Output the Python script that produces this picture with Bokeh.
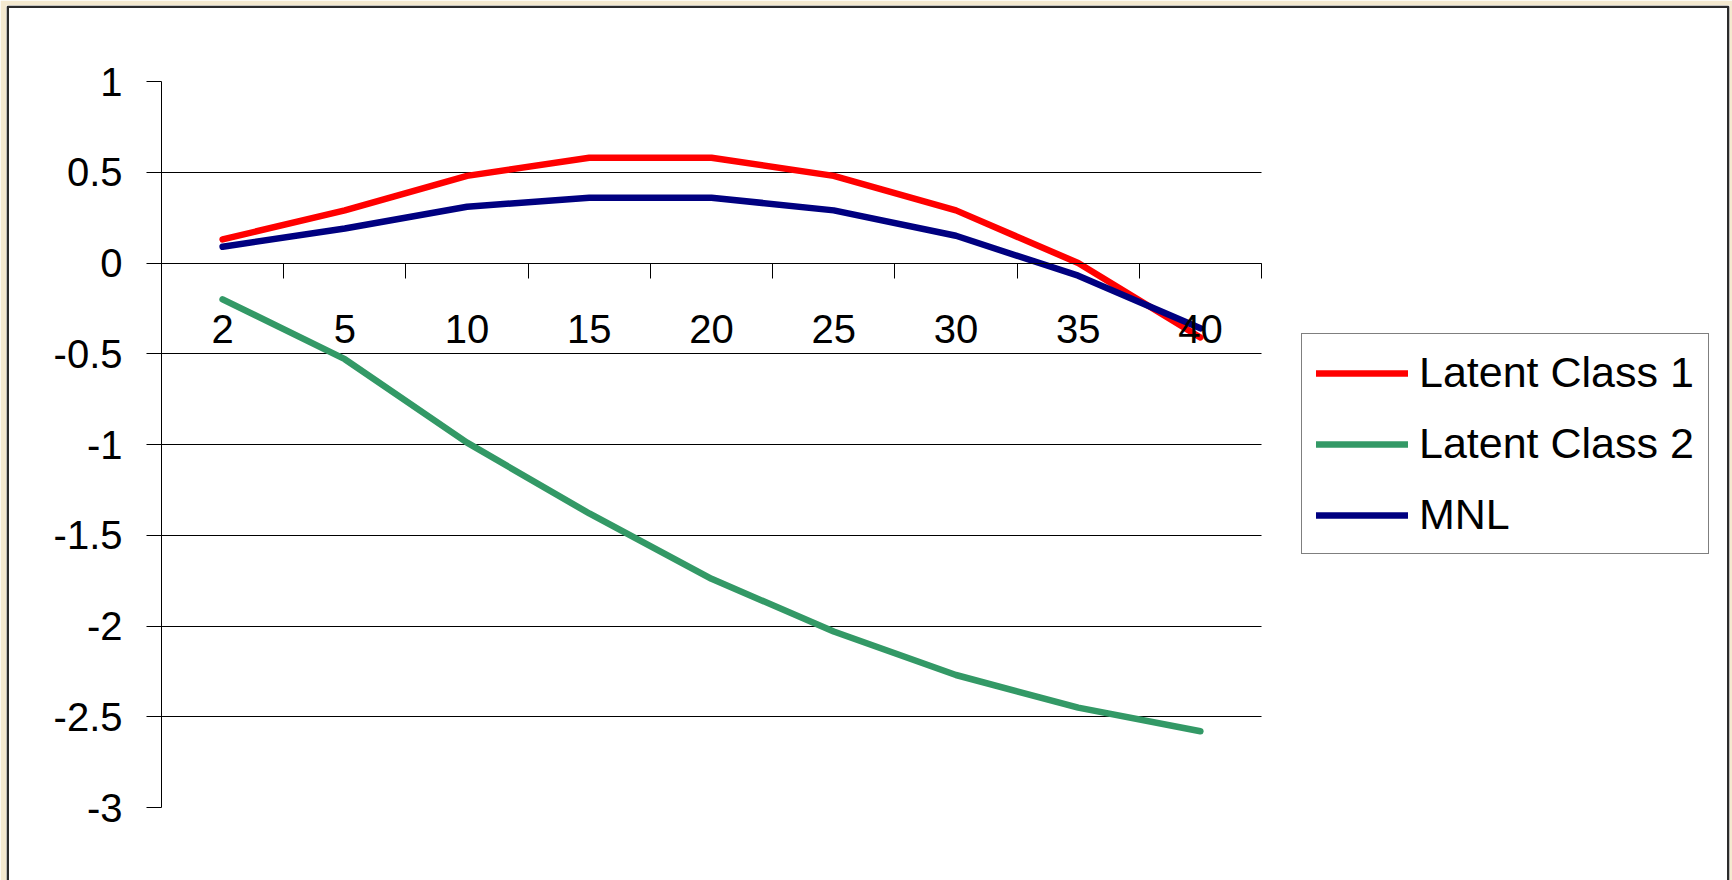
import numpy as np
from bokeh.plotting import figure
from bokeh.models import (Range1d, FixedTicker, LinearAxis, Legend, LegendItem,
                          BoxAnnotation, ColumnDataSource, Grid)
from bokeh.embed import file_html
from bokeh.resources import INLINE

categories = ["2", "5", "10", "15", "20", "25", "30", "35", "40"]
latent_class_1 = [0.13, 0.29, 0.48, 0.58, 0.58, 0.48, 0.29, 0.0, -0.41]
latent_class_2 = [-0.20, -0.53, -0.99, -1.38, -1.74, -2.03, -2.27, -2.45, -2.58]
mnl = [0.09, 0.19, 0.31, 0.36, 0.36, 0.29, 0.15, -0.07, -0.36]
y_ticks = [1, 0.5, 0, -0.5, -1, -1.5, -2, -2.5, -3]
y_labels = ["1", "0.5", "0", "-0.5", "-1", "-1.5", "-2", "-2.5", "-3"]
grid_ticks = [0.5, 0, -0.5, -1, -1.5, -2, -2.5]

FONT = "Liberation Sans"
n = len(categories)
xpos = [i + 0.5 for i in range(n)]
y_min, y_max = -3.0, 1.0

# layout (screen pixels)
W, H = 1732, 880
FL, FR, FT, FB = 6, 1729, 5, 880          # frame (white panel incl. border)
AL, AR, AT, AB = 161, 1261, 81, 807       # plot area (axes)
sx = (AR - AL) / n
sy = (AB - AT) / (y_max - y_min)
x_start = -(AL - FL) / sx
x_end = n + (FR - AR) / sx
y_end = y_max + (AT - FT) / sy
y_start = y_min - (FB - AB) / sy


def dx(px):
    return x_start + (px - FL) / sx


def dy(py):
    return y_end - (py - FT) / sy


src = ColumnDataSource(dict(x=xpos, lc1=latent_class_1, lc2=latent_class_2, mnl=mnl))

p = figure(width=W, height=H, output_backend="svg", toolbar_location=None,
           x_range=Range1d(x_start, x_end), y_range=Range1d(y_start, y_end),
           min_border_left=FL, min_border_right=W - FR, min_border_top=FT,
           min_border_bottom=H - FB, x_axis_location=None, y_axis_location=None)
p.border_fill_color = "#F4E9CF"
p.background_fill_color = "white"
p.outline_line_color = None
p.xgrid.visible = False
p.ygrid.visible = False

frame_border = BoxAnnotation(left=dx(7.2), right=dx(1727.8), top=dy(6.2), bottom=y_start - 1,
                             fill_color=None, fill_alpha=0, line_color="#2b2b2b",
                             line_alpha=1.0, line_width=2.6)
p.add_layout(frame_border)

grid = Grid(dimension=1, ticker=FixedTicker(ticks=grid_ticks),
            grid_line_color="black", grid_line_width=1, cross_bounds=(0, n))
p.add_layout(grid)

# y axis
ya = LinearAxis(ticker=FixedTicker(ticks=y_ticks), fixed_location=0, bounds=(y_min, y_max),
                major_label_overrides=dict(zip(y_ticks, y_labels)),
                major_tick_out=15, major_tick_in=0, minor_tick_line_color=None,
                axis_line_color="black", major_tick_line_color="black",
                major_label_standoff=24, major_label_text_font=FONT,
                major_label_text_font_size="40px", major_label_text_color="black")
p.add_layout(ya, "left")

# x axis: boundary tick marks
xt = LinearAxis(ticker=FixedTicker(ticks=list(range(n + 1))), fixed_location=0,
                bounds=(0, n), major_tick_out=15, major_tick_in=0,
                minor_tick_line_color=None, major_label_text_color=None,
                axis_line_color="black", major_tick_line_color="black")
p.add_layout(xt, "below")

# x axis: category labels
xl = LinearAxis(ticker=FixedTicker(ticks=xpos), fixed_location=0,
                major_label_overrides={float(v): c for v, c in zip(xpos, categories)},
                axis_line_color=None, major_tick_line_color=None, major_tick_out=0,
                major_tick_in=0, minor_tick_line_color=None, major_label_standoff=52,
                major_label_text_font=FONT, major_label_text_font_size="40px",
                major_label_text_color="black")
p.add_layout(xl, "below")

r1 = p.line("x", "lc1", source=src, line_color="#FF0000", line_width=6.5,
            line_cap="round", line_join="round")
r2 = p.line("x", "lc2", source=src, line_color="#339966", line_width=6.5,
            line_cap="round", line_join="round")
r3 = p.line("x", "mnl", source=src, line_color="#000080", line_width=6.5,
            line_cap="round", line_join="round")

legend = Legend(items=[LegendItem(label="Latent Class 1", renderers=[r1]),
                       LegendItem(label="Latent Class 2", renderers=[r2]),
                       LegendItem(label="MNL", renderers=[r3])],
                location=(1301 - FL, FB - 554), border_line_color="black",
                border_line_width=1,
                background_fill_color="white", background_fill_alpha=1.0,
                label_text_font=FONT, label_text_font_size="43px",
                label_text_color="black",
                glyph_width=92, glyph_height=48, label_height=48, spacing=22,
                padding=14, label_standoff=11, margin=0)
p.add_layout(legend)

open("out.html", "w").write(file_html(p, INLINE))
